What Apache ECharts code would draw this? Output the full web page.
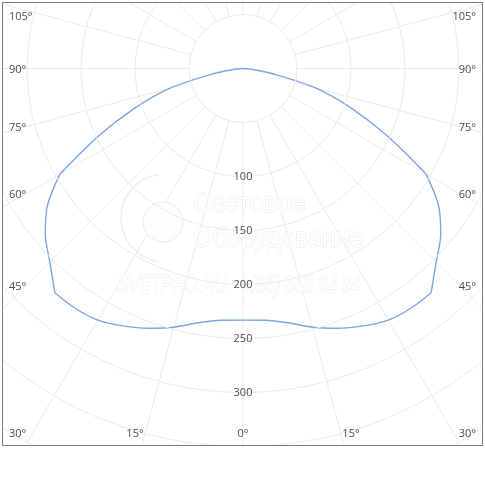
<!DOCTYPE html>
<html>
<head>
<meta charset="utf-8">
<script src="https://cdn.jsdelivr.net/npm/echarts@6/dist/echarts.min.js"></script>
<style>
  html,body{margin:0;padding:0;background:#fff;width:485px;height:485px;overflow:hidden;}
  #frame{position:absolute;left:2px;top:2px;width:479px;height:442px;border:1px solid #7d7d7d;overflow:hidden;background:#fff;}
  #chart{width:479px;height:442px;}
</style>
</head>
<body>
<div id="frame"><div id="chart"></div></div>
<script>
// ---- data ----
const angles = [0, 5, 10, 15, 20, 25, 30, 35, 40, 45, 50, 55, 60, 65, 70, 75, 80, 85, 90];
const intensity = [233, 234, 239, 248, 256, 263, 269, 271, 271, 253, 239, 221, 196, 147, 106, 70, 28, 8, 0];
const radiusTickLabels = [100, 150, 200, 250, 300];
const angleTickLabels = [105, 90, 75, 60, 45, 30, 15, 0];
// angles where the curve has a sharp corner (curve pieces are smoothed between them)
const breakAngles = [40, 60];

// ---- layout ----
const OFF = 3;
const CX = 243 - OFF, CY = 68.5 - OFF;
const R_MAX = 400, R_PX = 432;
const R_INNER = R_PX * 50 / R_MAX;

const idx = a => angles.indexOf(a);
const b0 = idx(breakAngles[0]), b1 = idx(breakAngles[1]);
function pieceBoth(i0, i1, throughEnd) {
  const pts = [];
  if (!throughEnd) {
    for (let i = i1; i >= i0; i--) pts.push([intensity[i], angles[i]]);
    for (let i = i0 + 1; i <= i1; i++) pts.push([intensity[i], 360 - angles[i]]);
  } else {
    for (let i = i0; i <= i1; i++) pts.push([intensity[i], angles[i]]);
    for (let i = i1 - 1; i >= i0; i--) pts.push([intensity[i], 360 - angles[i]]);
  }
  return pts;
}
function pieceSide(i0, i1, side) {
  const pts = [];
  for (let i = i0; i <= i1; i++) pts.push([intensity[i], side < 0 ? angles[i] : 360 - angles[i]]);
  return pts;
}
const pieces = [
  pieceBoth(0, b0, false),
  pieceSide(b0, b1, -1),
  pieceSide(b0, b1, 1),
  pieceBoth(b1, angles.length - 1, true)
];

// angle labels placed along the frame
const graphics = [];
const W = 217, H = 403;
angleTickLabels.forEach(a => {
  const sides = a === 0 ? [0] : [-1, 1];
  sides.forEach(s => {
    const rad = a * Math.PI / 180;
    const dx = Math.sin(rad), dy = Math.cos(rad);
    const tSide = dx > 1e-9 ? W / dx : Infinity;
    const tBot = dy > 1e-9 ? H / dy : Infinity;
    const t = Math.min(tSide, tBot);
    let y = 69.5 + t * dy;
    y = Math.max(17, Math.min(434, y));
    let x, align;
    if (tSide <= tBot) {
      x = s < 0 ? 9 : 476; align = s < 0 ? 'left' : 'right';
    } else {
      x = 243 + s * t * dx; x = Math.max(20, Math.min(465, x)); align = 'center';
    }
    graphics.push({
      type: 'text', x: x - OFF, y: y - OFF, z: 5,
      style: { text: a + '°', fill: '#4d4d4d', font: '11px "Open Sans", sans-serif', textAlign: align, textVerticalAlign: 'middle' }
    });
  });
});

// faint watermark
const wm = { fill: '#ffffff', stroke: '#e9e9e9', lineWidth: 1 };
graphics.push(
  { type: 'arc', z: 1, shape: { cx: 165 - OFF, cy: 218 - OFF, r: 44, startAngle: Math.PI * 0.55, endAngle: Math.PI * 1.45 }, style: { fill: 'none', stroke: '#eeeeee', lineWidth: 1.5 } },
  { type: 'circle', z: 1, shape: { cx: 163 - OFF, cy: 222 - OFF, r: 20 }, style: { fill: '#fdfdfd', stroke: '#ececec', lineWidth: 1 } },
  { type: 'text', z: 1, x: 193 - OFF, y: 205 - OFF, scaleX: 0.95, style: Object.assign({ text: 'Световое', font: '27px "Liberation Sans", sans-serif', textVerticalAlign: 'middle' }, wm) },
  { type: 'text', z: 1, x: 193 - OFF, y: 240 - OFF, scaleX: 0.93, style: Object.assign({ text: 'Оборудование', font: '27px "Liberation Sans", sans-serif', textVerticalAlign: 'middle' }, wm) },
  { type: 'text', z: 1, x: 117 - OFF, y: 286 - OFF, scaleX: 0.65, style: Object.assign({ text: 'SVETPRO.RU   (495) 669 84 94', font: 'italic 26px "Liberation Sans", sans-serif', textVerticalAlign: 'middle' }, wm) }
);

const gridColor = '#ebebeb';
const chart = echarts.init(document.getElementById('chart'), null, { renderer: 'canvas' });
chart.setOption({
  animation: false,
  backgroundColor: '#fff',
  polar: [
    { center: [CX, CY], radius: R_PX },
    { center: [CX, CY], radius: [R_INNER, R_PX] }
  ],
  angleAxis: [
    { polarIndex: 0, type: 'value', min: 0, max: 360, interval: 15, startAngle: 270, clockwise: true,
      axisLine: { show: false }, axisTick: { show: false }, axisLabel: { show: false }, splitLine: { show: false } },
    { polarIndex: 1, type: 'value', min: 0, max: 360, interval: 15, startAngle: 270, clockwise: true,
      axisLine: { show: false }, axisTick: { show: false }, axisLabel: { show: false },
      splitLine: { show: true, lineStyle: { color: gridColor, width: 1 } } }
  ],
  radiusAxis: [
    { polarIndex: 0, type: 'value', min: 0, max: R_MAX, interval: 50, z: 4,
      axisLine: { show: false }, axisTick: { show: false },
      splitLine: { show: true, lineStyle: { color: gridColor, width: 1 } },
      axisLabel: { show: true, margin: 0, align: 'center', verticalAlign: 'middle', color: '#4d4d4d',
        fontFamily: '"Open Sans", sans-serif', fontSize: 11, padding: [3, 0, 0, 0],
        formatter: v => radiusTickLabels.indexOf(v) >= 0 ? String(v) : '' } },
    { polarIndex: 1, type: 'value', min: 0, max: R_MAX,
      axisLine: { show: false }, axisTick: { show: false }, axisLabel: { show: false }, splitLine: { show: false } }
  ],
  graphic: graphics,
  series: pieces.map(p => ({
    type: 'line', coordinateSystem: 'polar', polarIndex: 0, data: p,
    showSymbol: false, smooth: 0.3, z: 3,
    lineStyle: { color: '#7fa3e8', width: 1.4 }
  }))
});
</script>
</body>
</html>
